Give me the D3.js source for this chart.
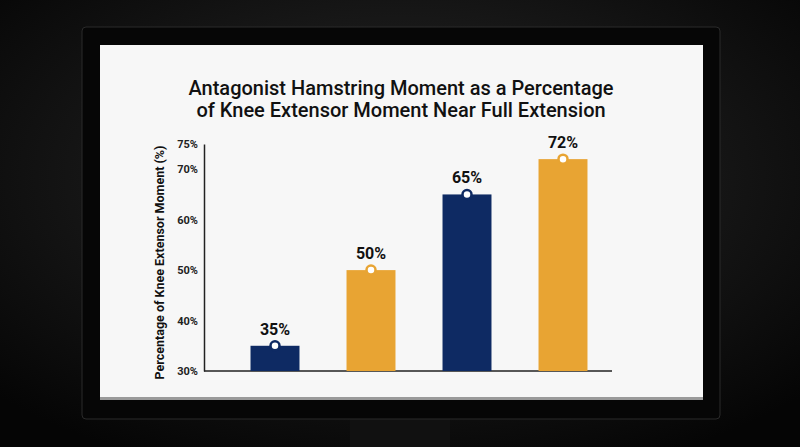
<!DOCTYPE html>
<html><head><meta charset="utf-8">
<script src="https://cdn.jsdelivr.net/npm/d3@7"></script>
<style>body{margin:0;background:#0b0b0b;overflow:hidden}</style>
</head><body>
<svg id="c" width="800" height="447"></svg>
<script>
const categories = ["A", "B", "C", "D"];
const values = [35, 50, 65, 72];
const colors = ["#0e2a63", "#e8a433", "#0e2a63", "#e8a433"];
const yTicks = [30, 40, 50, 60, 70, 75];

const svg = d3.select("#c");
const defs = svg.append("defs");
const bg = defs.append("radialGradient").attr("id", "bg").attr("cx", "50%").attr("cy", "40%").attr("r", "70%");
bg.append("stop").attr("offset", "0%").attr("stop-color", "#2a2a2a");
bg.append("stop").attr("offset", "100%").attr("stop-color", "#050505");
svg.append("rect").attr("width", 800).attr("height", 447).attr("fill", "url(#bg)");

// monitor
svg.append("rect").attr("x", 350).attr("y", 400).attr("width", 100).attr("height", 47).attr("fill", "#111");
svg.append("rect").attr("x", 82).attr("y", 27).attr("width", 638).attr("height", 392).attr("rx", 4).attr("fill", "#060606").attr("stroke", "#2a2a2a");
svg.append("rect").attr("x", 100).attr("y", 45).attr("width", 603).attr("height", 354).attr("fill", "#f7f7f7");
svg.append("rect").attr("x", 100).attr("y", 397).attr("width", 603).attr("height", 3).attr("fill", "#9a9a9a");

const title = svg.append("text").attr("x", 401).attr("text-anchor", "middle")
  .style("font-family", "Roboto, 'Liberation Sans', sans-serif").style("font-weight", "500")
  .style("font-size", "20px").attr("fill", "#111");
title.append("tspan").attr("x", 401).attr("y", 95).text("Antagonist Hamstring Moment as a Percentage");
title.append("tspan").attr("x", 401).attr("y", 117).text("of Knee Extensor Moment Near Full Extension");

const margin = {left: 204, right: 610, top: 144, bottom: 371};
const x = d3.scaleBand().domain(categories).range([227, 611]).paddingInner(0.49).paddingOuter(0.245);
const y = d3.scaleLinear().domain([30, 75]).range([margin.bottom, margin.top]);

const g = svg.append("g");
const yAxis = g.append("g").attr("transform", `translate(${margin.left},0)`)
  .call(d3.axisLeft(y).tickValues(yTicks).tickFormat(d => d + "%").tickSize(0).tickPadding(6));
yAxis.select(".domain").attr("stroke", "#222").attr("stroke-width", 1.5);
yAxis.selectAll("text").style("font-family", "Roboto, 'Liberation Sans', sans-serif")
  .style("font-size", "11px").style("font-weight", "bold").attr("fill", "#222");

g.append("line").attr("x1", margin.left).attr("x2", 612).attr("y1", margin.bottom).attr("y2", margin.bottom)
  .attr("stroke", "#222").attr("stroke-width", 1.5);

g.append("text").attr("transform", `translate(164,${(margin.top + margin.bottom) / 2 + 5}) rotate(-90)`)
  .attr("text-anchor", "middle").style("font-family", "Roboto, 'Liberation Sans', sans-serif")
  .style("font-size", "12.5px").style("font-weight", "bold").attr("fill", "#111")
  .text("Percentage of Knee Extensor Moment (%)");

const bars = g.selectAll(".bar").data(values).join("g");
bars.append("rect").attr("x", (d, i) => x(categories[i])).attr("width", x.bandwidth())
  .attr("y", d => y(d)).attr("height", d => y(30) - y(d)).attr("fill", (d, i) => colors[i]);
bars.append("circle").attr("cx", (d, i) => x(categories[i]) + x.bandwidth() / 2).attr("cy", d => y(d))
  .attr("r", 4.5).attr("fill", "#fff").attr("stroke", (d, i) => colors[i]).attr("stroke-width", 2.5);
bars.append("text").attr("x", (d, i) => x(categories[i]) + x.bandwidth() / 2).attr("y", d => y(d) - 11)
  .attr("text-anchor", "middle").style("font-family", "Roboto, 'Liberation Sans', sans-serif")
  .style("font-size", "16px").style("font-weight", "bold").attr("fill", "#111").text(d => d + "%");
</script>
</body></html>
